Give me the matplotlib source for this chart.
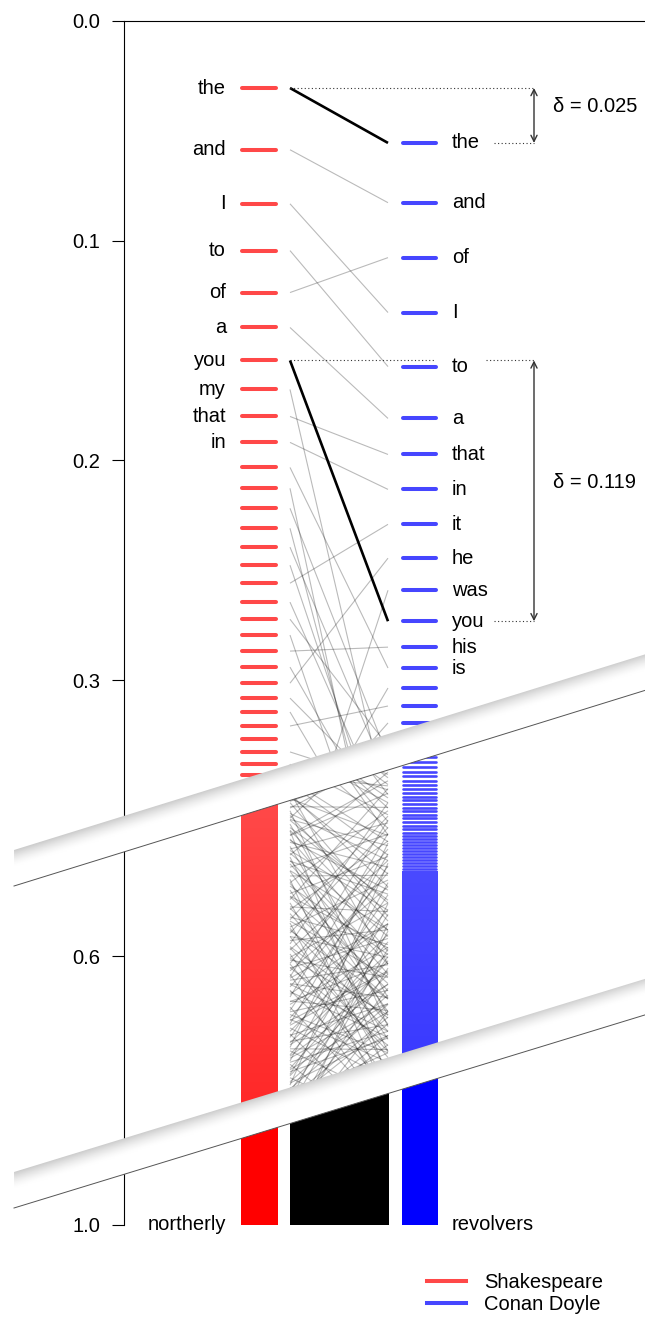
import numpy as np
import matplotlib
matplotlib.use("Agg")
import matplotlib.pyplot as plt
from matplotlib.patches import Polygon
from matplotlib.lines import Line2D
from matplotlib.collections import LineCollection
from matplotlib.colors import LinearSegmentedColormap

plt.rcParams['font.family'] = ['Liberation Sans', 'DejaVu Sans']

# ---- data: cumulative word frequencies (ranked) ----
s_words = ['the', 'and', 'I', 'to', 'of', 'a', 'you', 'my', 'that', 'in']
s_cum = [0.0305, 0.0586, 0.0832, 0.1045, 0.1236, 0.1395, 0.1545, 0.1677, 0.1800, 0.1918,
         0.2032, 0.2127, 0.2218, 0.2309, 0.2395, 0.2477, 0.2559, 0.2645, 0.2723, 0.2795,
         0.2868, 0.2941, 0.3014, 0.3082, 0.3145, 0.3209, 0.3268, 0.3327, 0.3382, 0.3432,
         0.3480, 0.3525]
s_dense_from = 0.352
s_last = 'northerly'

d_words = ['the', 'and', 'of', 'I', 'to', 'a', 'that', 'in', 'it', 'he', 'was', 'you', 'his', 'is']
d_cum = [0.0555, 0.0827, 0.1077, 0.1327, 0.1573, 0.1809, 0.1973, 0.2132, 0.2291, 0.2445,
         0.2591, 0.2732, 0.2850, 0.2945, 0.3036, 0.3118, 0.3195, 0.3265, 0.3330, 0.3395,
         0.3455, 0.3515, 0.3575, 0.3630, 0.3685, 0.3740, 0.3795, 0.3850, 0.3903, 0.3955,
         0.4007, 0.4060, 0.4112, 0.4165, 0.4215, 0.4262, 0.4308, 0.4353, 0.4398, 0.4443,
         0.4488, 0.4532, 0.4576, 0.4620, 0.4664, 0.4708]
d_dense_from = 0.474
d_last = 'revolvers'

# same word in both texts: (Shakespeare position, Conan Doyle position)
hl_s = [0.0305, 0.1545]
hl_d = [0.0555, 0.2732]
deltas = [0.025, 0.119]

link_s = [0.0586, 0.0832, 0.1045, 0.1236, 0.1395, 0.1800, 0.1918, 0.2032, 0.2559, 0.2868,
          0.3014, 0.3209, 0.1677, 0.2127, 0.2218, 0.2309, 0.2395, 0.2477, 0.2645, 0.2723,
          0.2795, 0.2941, 0.3082, 0.3145, 0.3327, 0.3382, 0.3432, 0.395, 0.370, 0.450,
          0.380, 0.420,
          0.356, 0.362, 0.378, 0.384, 0.391, 0.397, 0.404, 0.409, 0.414, 0.421,
          0.426, 0.431, 0.437, 0.441, 0.447, 0.453, 0.459, 0.463, 0.468, 0.474,
          0.481, 0.486, 0.491, 0.496, 0.502, 0.507, 0.512, 0.516, 0.521, 0.527,
          0.531, 0.537, 0.542, 0.546, 0.551, 0.557, 0.562, 0.566, 0.571, 0.577,
          0.582, 0.586, 0.591, 0.597, 0.602, 0.606, 0.611, 0.617, 0.622, 0.627,
          0.631, 0.636, 0.642, 0.646, 0.651, 0.657, 0.661, 0.667, 0.672, 0.676,
          0.681, 0.687, 0.692, 0.696, 0.701, 0.707, 0.712, 0.716, 0.721, 0.727,
          0.732, 0.736, 0.741, 0.747, 0.752, 0.756, 0.761, 0.767, 0.772, 0.776,
          0.781, 0.787, 0.792, 0.796, 0.801, 0.807, 0.812, 0.816, 0.821, 0.827,
          0.832, 0.836, 0.841, 0.847, 0.852, 0.856, 0.861, 0.867, 0.872, 0.876,
          0.571, 0.603, 0.618, 0.641, 0.653, 0.668, 0.683, 0.694, 0.703, 0.718,
          0.729, 0.738, 0.749, 0.758, 0.769, 0.778, 0.789, 0.798, 0.809, 0.818,
          0.829, 0.838, 0.612, 0.633, 0.588, 0.559, 0.548, 0.529, 0.511, 0.492,
          0.473, 0.458, 0.443, 0.428, 0.413, 0.398, 0.388, 0.372, 0.366, 0.359]
link_d = [0.0827, 0.1327, 0.1573, 0.1077, 0.1809, 0.1973, 0.2132, 0.2945, 0.2291, 0.2850,
          0.2445, 0.3118, 0.360, 0.420, 0.335, 0.400, 0.345, 0.380, 0.365, 0.330,
          0.410, 0.372, 0.353, 0.390, 0.347, 0.430, 0.450, 0.2591, 0.3195, 0.3265,
          0.3036, 0.3395,
          0.612, 0.478, 0.379, 0.705, 0.548, 0.436, 0.662, 0.517, 0.781, 0.358,
          0.593, 0.468, 0.688, 0.402, 0.571, 0.742, 0.508, 0.627, 0.419, 0.683,
          0.480, 0.812, 0.384, 0.598, 0.724, 0.452, 0.641, 0.351, 0.772, 0.534,
          0.429, 0.701, 0.583, 0.392, 0.823, 0.487, 0.664, 0.409, 0.751, 0.561,
          0.372, 0.692, 0.458, 0.803, 0.521, 0.632, 0.441, 0.733, 0.497, 0.841,
          0.398, 0.613, 0.712, 0.476, 0.792, 0.552, 0.418, 0.681, 0.587, 0.832,
          0.466, 0.744, 0.531, 0.622, 0.448, 0.783, 0.568, 0.858, 0.509, 0.702,
          0.642, 0.432, 0.811, 0.579, 0.671, 0.491, 0.876, 0.607, 0.722, 0.538,
          0.849, 0.658, 0.462, 0.761, 0.601, 0.868, 0.691, 0.522, 0.792, 0.563,
          0.881, 0.648, 0.732, 0.589, 0.893, 0.618, 0.771, 0.682, 0.552, 0.829,
          0.602, 0.688, 0.574, 0.662, 0.721, 0.611, 0.651, 0.758, 0.624, 0.671,
          0.596, 0.739, 0.642, 0.712, 0.683, 0.627, 0.718, 0.672, 0.744, 0.701,
          0.771, 0.718, 0.781, 0.552, 0.742, 0.712, 0.631, 0.664, 0.588, 0.652,
          0.561, 0.612, 0.532, 0.502, 0.562, 0.521, 0.458, 0.541, 0.421, 0.497]
links_solid_from = 0.70

top_ticks = [0.0, 0.1, 0.2, 0.3]
low_ticks = [0.6, 1.0]

RED = '#ff4848'
BLUE = '#4646ff'

# ---- layout (pixels) ----
W, H = 645, 1318
fig = plt.figure(figsize=(W / 100, H / 100), dpi=100)


def rect(x0, y0, x1, y1):
    return [x0 / W, 1 - y1 / H, (x1 - x0) / W, (y1 - y0) / H]


top = fig.add_axes(rect(124, 21, 645, 1225))
low = fig.add_axes(rect(124, 21, 645, 1225))
ov = fig.add_axes([0, 0, 1, 1], zorder=10)
ov.set_xlim(0, W)
ov.set_ylim(H, 0)
ov.axis('off')

# cut lines between the three views
xs = np.array([-20, 700])
cut1 = 868 - 0.31 * (xs - 14)
cut2 = 1190 - 0.306 * (xs - 14)
clip_top = Polygon([(xs[0], -50), (xs[1], -50), (xs[1], cut1[1]), (xs[0], cut1[0])],
                   transform=ov.transData)
clip_mid = Polygon([(xs[0], cut1[0]), (xs[1], cut1[1]), (xs[1], cut2[1]), (xs[0], cut2[0])],
                   transform=ov.transData)
clip_bot = Polygon([(xs[0], cut2[0]), (xs[1], cut2[1]), (xs[1], H + 50), (xs[0], H + 50)],
                   transform=ov.transData)

# x positions of the columns
RX = (242, 276)
BX = (403, 436)
LX = (290, 388)
TOP_LIM = (1204 / 2197, 0.0)
LOW_LIM = (1.0, (21 - 552.5) / 672.5)

for ax in (top, low):
    ax.patch.set_visible(False)
    ax.spines['right'].set_visible(False)
    ax.spines['bottom'].set_visible(False)
    ax.set_xticks([])
    ax.tick_params(axis='y', length=8.3, width=0.8, pad=9, labelsize=14.5)

top.spines['left'].set_bounds(0, 0.37)
top.set_yticks(top_ticks)
top.set_yticklabels(['%.1f' % t for t in top_ticks])
low.spines['top'].set_visible(False)
low.spines['left'].set_bounds(0.43, 1.0)
low.set_yticks(low_ticks)
low.set_yticklabels(['%.1f' % t for t in low_ticks])

segs = [[(LX[0], s), (LX[1], d)] for s, d in zip(link_s, link_d)]
grad = np.linspace(0, 1, 256).reshape(-1, 1)
red_cm = LinearSegmentedColormap.from_list('r', ['#ff4a4a', '#ff1c1c'])
blue_cm = LinearSegmentedColormap.from_list('b', ['#4a4aff', '#2c2cff'])

for ax, clip, blw in [(top, clip_top, 2.9), (low, clip_mid, 1.9)]:
    arts = []
    arts.append(ax.hlines(s_cum, RX[0], RX[1], color=RED, lw=blw, capstyle='round'))
    arts.append(ax.hlines(d_cum, BX[0], BX[1], color=BLUE, lw=blw, capstyle='round'))
    arts.append(ax.add_collection(LineCollection(segs, colors='k', alpha=0.27, lw=0.8)))
    arts.append(ax.imshow(grad, extent=[RX[0] - 1.5, RX[1] + 1.5, 1.0, s_dense_from],
                          aspect='auto', cmap=red_cm, origin='upper'))
    arts.append(ax.imshow(grad, extent=[BX[0] - 1.5, BX[1] + 1.5, 1.0, d_dense_from],
                          aspect='auto', cmap=blue_cm, origin='upper'))
    for a in arts:
        a.set_clip_path(clip)
top.set_xlim(124, 645)
top.set_ylim(*TOP_LIM)
low.set_xlim(124, 645)
low.set_ylim(*LOW_LIM)

# bottom view: everything saturated
bot_arts = [
    low.fill_betweenx([links_solid_from, 1.0], RX[0] - 1.5, RX[1] + 1.5, color='#ff0000', lw=0),
    low.fill_betweenx([links_solid_from, 1.0], BX[0] - 1.5, BX[1] + 1.5, color='#0000ff', lw=0),
    low.fill_betweenx([links_solid_from, 1.0], LX[0], LX[1] + 1, color='#000000', lw=0),
]
for a in bot_arts:
    a.set_clip_path(clip_bot)

# highlighted pairs
for s, d in zip(hl_s, hl_d):
    top.plot([LX[0], LX[1]], [s, d], color='k', lw=1.9, solid_capstyle='butt')

# word labels
for w, v in zip(s_words, s_cum):
    top.text(226, v, w, ha='right', va='center', fontsize=14.5)
for w, v in zip(d_words, d_cum):
    top.text(452, v, w, ha='left', va='center', fontsize=14.5)
low.text(226, 1.0, s_last, ha='right', va='center', fontsize=14.5)
low.text(452, 1.0, d_last, ha='left', va='center', fontsize=14.5)

# delta annotations
dot = dict(color='#333333', lw=0.8, linestyle=(0, (1, 2.2)))
AX = 534
for (s, d), dv in zip(zip(hl_s, hl_d), deltas):
    if dv < 0.05:
        top.plot([LX[0], AX], [s, s], **dot)
    else:
        top.plot([LX[0], 434], [s, s], **dot)
        top.plot([486, AX], [s, s], **dot)
    top.plot([494, AX], [d, d], **dot)
    top.annotate('', xy=(AX, s), xytext=(AX, d),
                 arrowprops=dict(arrowstyle='<->', color='#333333', lw=1.0,
                                 shrinkA=0, shrinkB=0, mutation_scale=11))
    top.text(553, (s + d) / 2 - 0.004, '\u03b4 = %.3f' % dv, ha='left', va='center',
             fontsize=14.5)


# broken-axis bands (white strip, grey shading at its upper edge)
def band(y14, m):
    x0, x1 = 14, 646
    yt0, yt1 = y14, y14 - m * (x1 - 14)
    ymin, ymax = yt1 - 2, yt0 + 38
    gx, gy = np.meshgrid(np.linspace(x0, x1, 160), np.linspace(ymin, ymax, 400))
    t = gy - (y14 - m * (gx - 14))
    shade = 1 - 0.20 * np.clip(1 - t / 17, 0, 1) ** 1.6
    img = ov.imshow(shade, extent=[x0, x1, ymax, ymin], cmap='gray', vmin=0, vmax=1,
                    origin='upper', aspect='auto', interpolation='bilinear')
    img.set_clip_path(Polygon([(x0, yt0), (x1, yt1), (x1, yt1 + 36), (x0, yt0 + 36)],
                              transform=ov.transData))
    ov.plot([x0, x1], [yt0 + 36, yt1 + 36], color='#555555', lw=0.7)


band(850, 0.31)
band(1172, 0.306)
ov.set_xlim(0, W)
ov.set_ylim(H, 0)

handles = [Line2D([], [], color=RED, lw=2.9), Line2D([], [], color=BLUE, lw=2.9)]
fig.legend(handles, ['Shakespeare', 'Conan Doyle'], loc='center left',
           bbox_to_anchor=(427 / W, 1 - 1293.5 / H), frameon=False, fontsize=14.5,
           handlelength=1.95, handletextpad=0.9, labelspacing=0.18, borderpad=0,
           borderaxespad=0)

fig.savefig('out.png', dpi=100)
